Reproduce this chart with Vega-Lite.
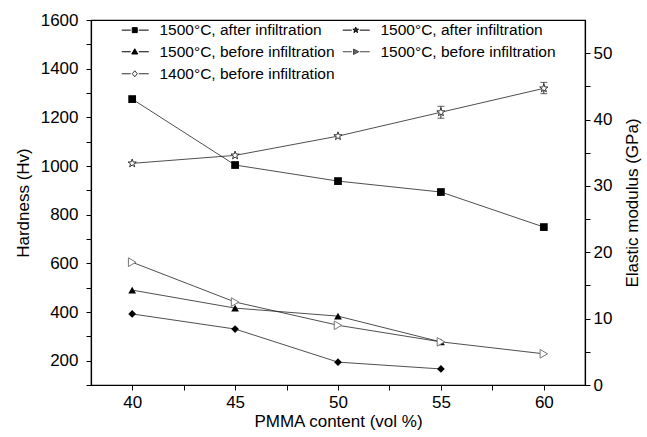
{
  "$schema": "https://vega.github.io/schema/vega-lite/v6.json",
  "width": 494,
  "height": 365,
  "autosize": {"type": "none"},
  "padding": {"left": 91, "top": 20, "right": 62, "bottom": 52},
  "background": "white",
  "config": {
    "font": "Liberation Sans",
    "view": {"stroke": "black", "strokeWidth": 1.2},
    "axis": {
      "domainColor": "black", "domainWidth": 1.2, "tickColor": "black", "tickWidth": 1, "tickSize": 5,
      "labelColor": "black", "labelFont": "Liberation Sans", "labelFontSize": 17,
      "titleColor": "black", "titleFont": "Liberation Sans", "titleFontSize": 17, "titleFontWeight": "normal",
      "grid": false
    }
  },
  "datasets": {
    "pts": [
      {"pmma": 40, "value": 1275, "series": "Hardness: 1500°C, after infiltration", "quantity": "hardness"},
      {"pmma": 45, "value": 1004, "series": "Hardness: 1500°C, after infiltration", "quantity": "hardness"},
      {"pmma": 50, "value": 938, "series": "Hardness: 1500°C, after infiltration", "quantity": "hardness"},
      {"pmma": 55, "value": 893, "series": "Hardness: 1500°C, after infiltration", "quantity": "hardness"},
      {"pmma": 60, "value": 749, "series": "Hardness: 1500°C, after infiltration", "quantity": "hardness"},
      {"pmma": 40, "value": 490, "series": "Hardness: 1500°C, before infiltration", "quantity": "hardness"},
      {"pmma": 45, "value": 416, "series": "Hardness: 1500°C, before infiltration", "quantity": "hardness"},
      {"pmma": 50, "value": 383, "series": "Hardness: 1500°C, before infiltration", "quantity": "hardness"},
      {"pmma": 55, "value": 277, "series": "Hardness: 1500°C, before infiltration", "quantity": "hardness"},
      {"pmma": 40, "value": 392, "series": "Hardness: 1400°C, before infiltration", "quantity": "hardness"},
      {"pmma": 45, "value": 330, "series": "Hardness: 1400°C, before infiltration", "quantity": "hardness"},
      {"pmma": 50, "value": 194, "series": "Hardness: 1400°C, before infiltration", "quantity": "hardness"},
      {"pmma": 55, "value": 166, "series": "Hardness: 1400°C, before infiltration", "quantity": "hardness"},
      {"pmma": 40, "value": 33.4, "series": "Modulus: 1500°C, after infiltration", "quantity": "modulus"},
      {"pmma": 45, "value": 34.6, "series": "Modulus: 1500°C, after infiltration", "quantity": "modulus"},
      {"pmma": 50, "value": 37.5, "series": "Modulus: 1500°C, after infiltration", "quantity": "modulus"},
      {"pmma": 55, "value": 41.1, "lo": 40.2, "hi": 42.0, "series": "Modulus: 1500°C, after infiltration", "quantity": "modulus"},
      {"pmma": 60, "value": 44.7, "lo": 43.9, "hi": 45.6, "series": "Modulus: 1500°C, after infiltration", "quantity": "modulus"},
      {"pmma": 40, "value": 18.5, "series": "Modulus: 1500°C, before infiltration", "quantity": "modulus"},
      {"pmma": 45, "value": 12.5, "series": "Modulus: 1500°C, before infiltration", "quantity": "modulus"},
      {"pmma": 50, "value": 9.0, "series": "Modulus: 1500°C, before infiltration", "quantity": "modulus"},
      {"pmma": 55, "value": 6.5, "series": "Modulus: 1500°C, before infiltration", "quantity": "modulus"},
      {"pmma": 60, "value": 4.7, "series": "Modulus: 1500°C, before infiltration", "quantity": "modulus"}
    ]
  },
  "data": {"name": "pts"},
  "encoding": {
    "x": {
      "field": "pmma", "type": "quantitative",
      "scale": {"domain": [38, 62], "nice": false, "zero": false},
      "axis": {
        "title": "PMMA content (vol %)",
        "values": [40, 42.5, 45, 47.5, 50, 52.5, 55, 57.5, 60],
        "labelExpr": "datum.value % 5 == 0 ? datum.label : ''",
        "labelPadding": 4, "titlePadding": 3, "tickSize": 5
      }
    }
  },
  "layer": [
    {
      "transform": [{"filter": "datum.quantity == 'hardness'"}],
      "encoding": {
        "y": {
          "field": "value", "type": "quantitative",
          "scale": {"domain": [100, 1600], "nice": false, "zero": false},
          "axis": {
            "orient": "left", "title": "Hardness (Hv)",
            "values": [100, 200, 300, 400, 500, 600, 700, 800, 900, 1000, 1100, 1200, 1300, 1400, 1500, 1600],
            "labelExpr": "datum.value % 200 == 0 ? datum.label : ''",
            "format": "d", "labelPadding": 8, "titlePadding": 8
          }
        }
      },
      "layer": [
        {
          "mark": {"type": "line", "color": "#222", "strokeWidth": 0.8},
          "encoding": {"detail": {"field": "series", "type": "nominal"}}
        },
        {
          "mark": {"type": "point", "filled": true, "color": "black", "size": 60, "opacity": 1},
          "encoding": {
            "shape": {
              "field": "series", "type": "nominal", "legend": null,
              "scale": {
                "domain": ["Hardness: 1500°C, after infiltration", "Hardness: 1500°C, before infiltration", "Hardness: 1400°C, before infiltration"],
                "range": ["square", "triangle-up", "diamond"]
              }
            }
          }
        }
      ]
    },
    {
      "transform": [{"filter": "datum.quantity == 'modulus'"}],
      "encoding": {
        "y": {
          "field": "value", "type": "quantitative",
          "scale": {"domain": [0, 55], "nice": false, "zero": false},
          "axis": {
            "orient": "right", "title": "Elastic modulus (GPa)", "titleAngle": 270,
            "values": [0, 5, 10, 15, 20, 25, 30, 35, 40, 45, 50],
            "labelExpr": "datum.value % 10 == 0 ? datum.label : ''",
            "labelPadding": 3, "titlePadding": 30
          }
        }
      },
      "layer": [
        {
          "mark": {"type": "line", "color": "#222", "strokeWidth": 0.8},
          "encoding": {"detail": {"field": "series", "type": "nominal"}}
        },
        {
          "transform": [{"filter": "isValid(datum.lo)"}],
          "mark": {"type": "rule", "color": "#222", "strokeWidth": 1},
          "encoding": {
            "y": {"field": "lo", "type": "quantitative", "scale": {"domain": [0, 55], "nice": false, "zero": false},
              "axis": {"orient": "right", "title": "Elastic modulus (GPa)", "titleAngle": 270, "values": [0, 5, 10, 15, 20, 25, 30, 35, 40, 45, 50], "labelExpr": "datum.value % 10 == 0 ? datum.label : ''", "labelPadding": 3, "titlePadding": 30}},
            "y2": {"field": "hi"}
          }
        },
        {
          "transform": [{"filter": "isValid(datum.lo)"}],
          "mark": {"type": "tick", "color": "#222", "thickness": 1, "size": 7, "orient": "horizontal"},
          "encoding": {
            "y": {"field": "lo", "type": "quantitative", "scale": {"domain": [0, 55], "nice": false, "zero": false},
              "axis": {"orient": "right", "title": "Elastic modulus (GPa)", "titleAngle": 270, "values": [0, 5, 10, 15, 20, 25, 30, 35, 40, 45, 50], "labelExpr": "datum.value % 10 == 0 ? datum.label : ''", "labelPadding": 3, "titlePadding": 30}}
          }
        },
        {
          "transform": [{"filter": "isValid(datum.hi)"}],
          "mark": {"type": "tick", "color": "#222", "thickness": 1, "size": 7, "orient": "horizontal"},
          "encoding": {
            "y": {"field": "hi", "type": "quantitative", "scale": {"domain": [0, 55], "nice": false, "zero": false},
              "axis": {"orient": "right", "title": "Elastic modulus (GPa)", "titleAngle": 270, "values": [0, 5, 10, 15, 20, 25, 30, 35, 40, 45, 50], "labelExpr": "datum.value % 10 == 0 ? datum.label : ''", "labelPadding": 3, "titlePadding": 30}}
          }
        },
        {
          "mark": {"type": "point", "fill": "white", "strokeWidth": 1, "size": 75, "opacity": 1, "fillOpacity": 1},
          "encoding": {
            "shape": {
              "field": "series", "type": "nominal", "legend": null,
              "scale": {
                "domain": ["Modulus: 1500°C, after infiltration", "Modulus: 1500°C, before infiltration"],
                "range": ["M0,-1L0.235,-0.324L0.951,-0.309L0.38,0.124L0.588,0.809L0,0.4L-0.588,0.809L-0.38,0.124L-0.951,-0.309L-0.235,-0.324Z", "triangle-right"]
              }
            },
            "stroke": {
              "field": "series", "type": "nominal", "legend": null,
              "scale": {
                "domain": ["Modulus: 1500°C, after infiltration", "Modulus: 1500°C, before infiltration"],
                "range": ["#333", "#777"]
              }
            }
          }
        }
      ]
    },
    {
      "transform": [{"filter": "datum.pmma > 1000"}],
      "mark": {"type": "point", "strokeWidth": 1, "size": 100, "opacity": 1, "fillOpacity": 1},
      "encoding": {
        "shape": {
          "field": "series", "type": "nominal",
          "scale": {
            "domain": ["Hardness: 1500°C, after infiltration", "Hardness: 1500°C, before infiltration", "Hardness: 1400°C, before infiltration", "Modulus: 1500°C, after infiltration", "Modulus: 1500°C, before infiltration"],
            "range": [
              "M-2.6,0H-0.8M0.8,0H2.8M-0.5,-0.5H0.5V0.5H-0.5Z",
              "M-2.6,0H-0.8M0.8,0H2.8M0,-0.6L0.6,0.45L-0.6,0.45Z",
              "M-2.6,0H-0.8M0.8,0H2.8M0,-0.6L0.5,0L0,0.6L-0.5,0Z",
              "M-2.6,0H-0.8M0.8,0H2.8M0,-0.6L0.141,-0.194L0.571,-0.185L0.228,0.074L0.353,0.485L0,0.24L-0.353,0.485L-0.228,0.074L-0.571,-0.185L-0.141,-0.194Z",
              "M-2.6,0H-0.8M0.8,0H2.8M-0.45,-0.55L0.6,0L-0.45,0.55Z"
            ]
          },
          "legend": {"title": null, "orient": "none", "legendX": 36, "legendY": 2, "columns": 2, "labelExpr": "split(datum.label, ': ')[1]", "labelFontSize": 15.5, "labelFont": "Liberation Sans", "labelColor": "black", "labelLimit": 300, "labelOffset": 17, "rowPadding": 5, "columnPadding": 5, "symbolStrokeWidth": 1, "symbolSize": 100, "padding": 0, "symbolOpacity": 1}
        },
        "fill": {
          "field": "series", "type": "nominal",
          "scale": {
            "domain": ["Hardness: 1500°C, after infiltration", "Hardness: 1500°C, before infiltration", "Hardness: 1400°C, before infiltration", "Modulus: 1500°C, after infiltration", "Modulus: 1500°C, before infiltration"],
            "range": ["black", "black", "white", "#333", "#666"]
          },
          "legend": {"title": null, "orient": "none", "legendX": 36, "legendY": 2, "columns": 2, "labelExpr": "split(datum.label, ': ')[1]", "labelFontSize": 15.5, "labelFont": "Liberation Sans", "labelColor": "black", "labelLimit": 300, "labelOffset": 17, "rowPadding": 5, "columnPadding": 5, "symbolStrokeWidth": 1, "symbolSize": 100, "padding": 0, "symbolOpacity": 1}
        },
        "stroke": {
          "field": "series", "type": "nominal",
          "scale": {
            "domain": ["Hardness: 1500°C, after infiltration", "Hardness: 1500°C, before infiltration", "Hardness: 1400°C, before infiltration", "Modulus: 1500°C, after infiltration", "Modulus: 1500°C, before infiltration"],
            "range": ["black", "black", "#333", "black", "#444"]
          },
          "legend": {"title": null, "orient": "none", "legendX": 36, "legendY": 2, "columns": 2, "labelExpr": "split(datum.label, ': ')[1]", "labelFontSize": 15.5, "labelFont": "Liberation Sans", "labelColor": "black", "labelLimit": 300, "labelOffset": 17, "rowPadding": 5, "columnPadding": 5, "symbolStrokeWidth": 1, "symbolSize": 100, "padding": 0, "symbolOpacity": 1}
        }
      }
    }
  ],
  "resolve": {"scale": {"y": "independent", "shape": "independent", "fill": "independent", "stroke": "independent"}}
}
